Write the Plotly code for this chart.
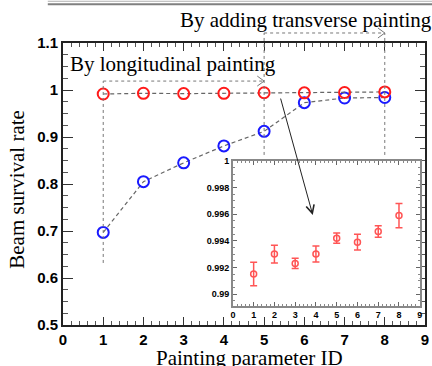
import plotly.graph_objects as go

# Painting parameter IDs and measured beam survival rates
param_id = [1, 2, 3, 4, 5, 6, 7, 8]
red_rate = [0.9915, 0.9930, 0.9923, 0.9930, 0.9942, 0.9939, 0.9947, 0.9959]
red_err = [0.00088, 0.00066, 0.00039, 0.00060, 0.00039, 0.00059, 0.00044, 0.00091]
blue_rate = [0.697, 0.805, 0.845, 0.881, 0.912, 0.973, 0.983, 0.984]

main_xticks = [0, 1, 2, 3, 4, 5, 6, 7, 8, 9]
main_yticks = [0.5, 0.6, 0.7, 0.8, 0.9, 1.0, 1.1]
inset_yticks = [0.99, 0.992, 0.994, 0.996, 0.998, 1.0]

RED = "#ff1a1a"
BLUE = "#1a1aff"
GUIDE = "#777777"
SERIF = "Liberation Serif"
SANS = "Liberation Sans"

fig = go.Figure()

# main panel: dashed connectors with open circles
fig.add_trace(go.Scatter(
    x=param_id, y=blue_rate, mode="lines+markers",
    line=dict(color="#666666", width=1.2, dash="4px,3px"),
    marker=dict(symbol="circle-open", size=11, color=BLUE, line=dict(width=2, color=BLUE)),
    xaxis="x", yaxis="y", showlegend=False, cliponaxis=False))
fig.add_trace(go.Scatter(
    x=param_id, y=red_rate, mode="lines+markers",
    line=dict(color="#666666", width=1.2, dash="4px,3px"),
    marker=dict(symbol="circle-open", size=11, color=RED, line=dict(width=2, color=RED)),
    xaxis="x", yaxis="y", showlegend=False, cliponaxis=False))

# inset: zoom on the red series with error bars
fig.add_trace(go.Scatter(
    x=param_id, y=red_rate, mode="markers",
    marker=dict(symbol="circle-open", size=6, color="#ff5555", line=dict(width=1.5, color="#ff5555")),
    error_y=dict(type="data", array=red_err, visible=True, color="#ff5555", thickness=1.5, width=3.5),
    xaxis="x2", yaxis="y2", showlegend=False))

tickfont_main = dict(family=SANS, size=15, color="black", weight="bold")
tickfont_inset = dict(family=SANS, size=9, color="black", weight="bold")

fig.update_layout(
    width=432, height=366,
    margin=dict(l=63, r=4, t=43, b=41),
    paper_bgcolor="white", plot_bgcolor="white",
    xaxis=dict(
        range=[0, 9], tickvals=main_xticks, ticks="inside", ticklen=8, tickwidth=1,
        tickcolor="#333333", showline=True, linecolor="#222222", linewidth=2,
        mirror="ticks", showgrid=False, zeroline=False, tickfont=tickfont_main,
        minor=dict(dtick=0.2, ticks="inside", ticklen=4, tickcolor="#555555", showgrid=False),
        domain=[0, 1]),
    yaxis=dict(
        range=[0.5, 1.1], tickvals=main_yticks, ticks="inside", ticklen=10, tickwidth=1,
        tickcolor="#333333", showline=True, linecolor="#222222", linewidth=2,
        mirror="ticks", showgrid=False, zeroline=False, tickfont=tickfont_main,
        minor=dict(dtick=0.025, ticks="inside", ticklen=5, tickcolor="#555555", showgrid=False),
        domain=[0, 1]),
    xaxis2=dict(
        range=[0, 9], dtick=1, ticks="inside", ticklen=4, tickwidth=1,
        tickcolor="#666666", showline=True, linecolor="#888888", linewidth=1.5,
        mirror="ticks", showgrid=False, zeroline=False, tickfont=tickfont_inset,
        minor=dict(dtick=0.2, ticks="inside", ticklen=2, tickcolor="#888888", showgrid=False),
        domain=[0.4693, 0.9855], anchor="y2"),
    yaxis2=dict(
        range=[0.98912, 1.0], tickvals=inset_yticks, ticks="inside", ticklen=4, tickwidth=1,
        tickcolor="#666666", showline=True, linecolor="#888888", linewidth=1.5,
        mirror="ticks", showgrid=False, zeroline=False, tickfont=tickfont_inset,
        minor=dict(dtick=0.0005, ticks="inside", ticklen=2, tickcolor="#888888", showgrid=False),
        domain=[0.0684, 0.5816], anchor="x2"),
)

shapes = []
dot = dict(color=GUIDE, width=1, dash="dot")
# vertical guides
shapes.append(dict(type="line", xref="x", yref="y", x0=1, x1=1, y0=0.632, y1=1.019, line=dot))
for xv in (5, 8):
    shapes.append(dict(type="line", xref="x", yref="paper", x0=xv, x1=xv, y0=0.603, y1=1.0355, line=dot))
# horizontal guide arrows
shapes.append(dict(type="line", xref="x", yref="y", x0=1, x1=5, y0=1.019, y1=1.019, line=dot))
shapes.append(dict(type="line", xref="x", yref="paper", x0=5, x1=8, y0=1.0355, y1=1.0355, line=dot))
shapes.append(dict(type="path", xref="x", yref="y",
                   path="M 4.83 1.0296 L 5 1.019 L 4.83 1.0084",
                   line=dict(color=GUIDE, width=1)))
shapes.append(dict(type="path", xref="x", yref="paper",
                   path="M 7.83 1.0532 L 8 1.0355 L 7.83 1.0178",
                   line=dict(color=GUIDE, width=1)))
# page rule along the top
shapes.append(dict(type="line", xref="paper", yref="paper", x0=-0.042, x1=1.02, y0=1.148, y1=1.148,
                   line=dict(color="#b0b0b0", width=1)))
shapes.append(dict(type="line", xref="paper", yref="paper", x0=-0.042, x1=1.02, y0=1.137, y1=1.137,
                   line=dict(color="#808080", width=2)))
fig.update_layout(shapes=shapes)

annotations = [
    dict(text="By longitudinal painting", xref="paper", yref="paper", x=0.013, y=0.9255,
         xanchor="left", yanchor="middle", showarrow=False,
         font=dict(family=SERIF, size=21, color="black")),
    dict(text="By adding transverse painting", xref="paper", yref="paper", x=0.317, y=1.0816,
         xanchor="left", yanchor="middle", showarrow=False,
         font=dict(family=SERIF, size=21, color="black")),
    dict(text="Beam survival rate", xref="paper", yref="paper", x=-0.128, y=0.482,
         xanchor="center", yanchor="middle", textangle=-90, showarrow=False,
         font=dict(family=SERIF, size=21, color="black")),
    dict(text="Painting parameter ID", xref="paper", yref="paper", x=0.5156, y=-0.116,
         xanchor="center", yanchor="middle", showarrow=False,
         font=dict(family=SERIF, size=21, color="black")),
    # pointer from the red series to the inset
    dict(text="", xref="x", yref="y", x=6.21, y=0.734, axref="x", ayref="y", ax=5.40, ay=0.985,
         showarrow=True, arrowhead=5, arrowsize=1.6, arrowwidth=1, arrowcolor="#222222"),
]
fig.update_layout(annotations=annotations)

fig.write_html("out.html")
